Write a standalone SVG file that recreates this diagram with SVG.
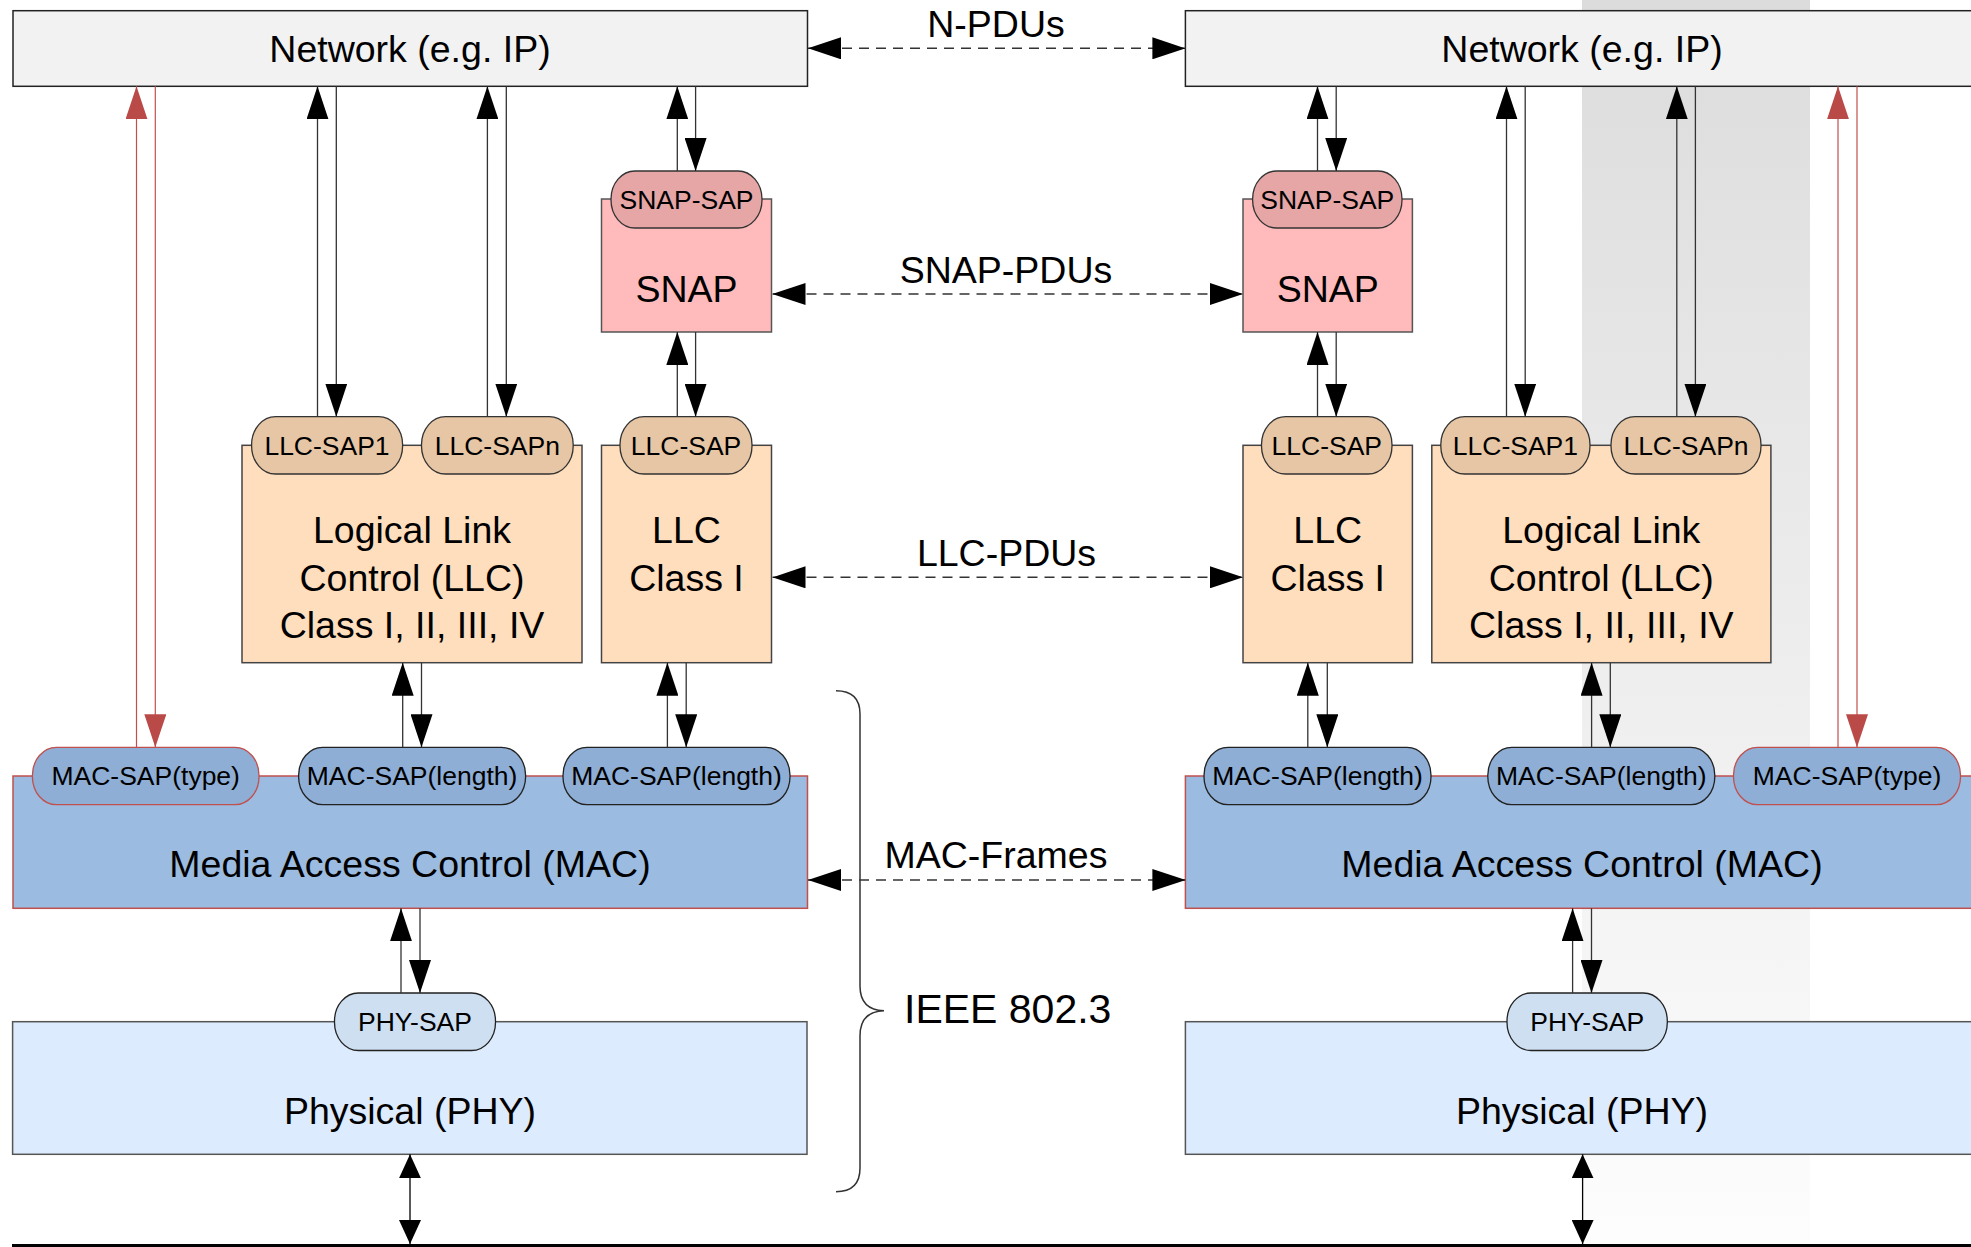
<svg xmlns="http://www.w3.org/2000/svg" width="1971" height="1247" viewBox="0 0 1971 1247">
  <style>
    text { font-family: "Liberation Sans", Arial, sans-serif; fill: #000; text-anchor: middle; }
    .big { font-size: 37.5px; }
    .sap { font-size: 26.5px; }
    .ieee { font-size: 41px; text-anchor: start; }
    .box { stroke-width: 1.5; }
    .net { fill: #f2f2f2; stroke: #222; }
    .snap { fill: #ffbbbb; stroke: #555; }
    .snapsap { fill: #e6a6a6; stroke: #333; stroke-width: 1.3; }
    .llc { fill: #ffdebd; stroke: #444; }
    .llcsap { fill: #e6c6a4; stroke: #333; stroke-width: 1.3; }
    .mac { fill: #9bbbe0; stroke: #c0504d; }
    .macsap { fill: #8eaed6; stroke: #222; stroke-width: 1.3; }
    .macsapt { fill: #8eaed6; stroke: #c0504d; stroke-width: 1.3; }
    .phy { fill: #dcebfd; stroke: #555; }
    .physap { fill: #cfdff2; stroke: #222; stroke-width: 1.3; }
    .c { stroke: #333; stroke-width: 1.3; fill: none; }
    .cr { stroke: #c0504d; stroke-width: 1.2; fill: none; }
    .cb { stroke: #000; stroke-width: 1.3; fill: none; }
    .dash { stroke: #333; stroke-width: 1.5; stroke-dasharray: 10 7; fill: none; }
  </style>
  <defs>
    <linearGradient id="bandFade" x1="0" y1="0" x2="0" y2="1">
      <stop offset="0" stop-color="#dcdcdc"/>
      <stop offset="1" stop-color="#fdfdfd"/>
    </linearGradient>
    <marker id="ah" markerUnits="userSpaceOnUse" markerWidth="33" markerHeight="22" viewBox="0 0 33 22" refX="33" refY="11" orient="auto">
      <path d="M0,0 L33,11 L0,22 z" fill="#000"/>
    </marker>
    <marker id="ahr" markerUnits="userSpaceOnUse" markerWidth="33" markerHeight="22" viewBox="0 0 33 22" refX="33" refY="11" orient="auto">
      <path d="M0,0 L33,11 L0,22 z" fill="#b94a48"/>
    </marker>
    <marker id="ahd" markerUnits="userSpaceOnUse" markerWidth="33" markerHeight="22" viewBox="0 0 33 22" refX="33" refY="11" orient="auto-start-reverse">
      <path d="M0,0 L33,11 L0,22 z" fill="#000"/>
    </marker>
    <marker id="ahs" markerUnits="userSpaceOnUse" markerWidth="24" markerHeight="22" viewBox="0 0 24 22" refX="24" refY="11" orient="auto-start-reverse">
      <path d="M0,0 L24,11 L0,22 z" fill="#000"/>
    </marker>
  </defs>

  <!-- shaded column behind the right-hand stack -->
  <rect x="1582" y="0" width="228" height="1244" fill="url(#bandFade)"/>

  <!-- left stack -->
  <g id="net-left">
    <rect class="box net" x="13" y="10.7" width="794.5" height="75.6"/>
    <text class="big" x="410" y="61.5">Network (e.g. IP)</text>
  </g>
  <g id="snap-left">
    <rect class="box snap" x="601.5" y="199" width="170" height="133"/>
    <text class="big" x="686.5" y="302">SNAP</text>
  </g>
  <g id="snapsap-left">
    <rect class="snapsap" x="611" y="171" width="151" height="57" rx="24" ry="28"/>
    <text class="sap" x="686.5" y="208.5">SNAP-SAP</text>
  </g>
  <g id="llc-left">
    <rect class="box llc" x="242" y="445.3" width="340" height="217.4"/>
    <text class="big" x="412" y="543">Logical Link</text>
    <text class="big" x="412" y="590.5">Control (LLC)</text>
    <text class="big" x="412" y="637.5">Class I, II, III, IV</text>
  </g>
  <g id="llcsap1-left">
    <rect class="llcsap" x="251.6" y="416.7" width="151" height="57.3" rx="24" ry="28"/>
    <text class="sap" x="327" y="454.5">LLC-SAP1</text>
  </g>
  <g id="llcsapn-left">
    <rect class="llcsap" x="421.5" y="416.7" width="151.7" height="57.3" rx="24" ry="28"/>
    <text class="sap" x="497.3" y="454.5">LLC-SAPn</text>
  </g>
  <g id="llc1-left">
    <rect class="box llc" x="601.5" y="445.3" width="170" height="217.4"/>
    <text class="big" x="686.5" y="543">LLC</text>
    <text class="big" x="686.5" y="590.5">Class I</text>
  </g>
  <g id="llcsap-left">
    <rect class="llcsap" x="620" y="416.7" width="132" height="57.3" rx="24" ry="28"/>
    <text class="sap" x="686" y="454.5">LLC-SAP</text>
  </g>
  <g id="mac-left">
    <rect class="box mac" x="13" y="776" width="794.5" height="132.3"/>
    <text class="big" x="410" y="877">Media Access Control (MAC)</text>
  </g>
  <g id="macsap-type-left">
    <rect class="macsapt" x="32.4" y="747.3" width="226.6" height="57.4" rx="24" ry="28"/>
    <text class="sap" x="145.7" y="785.3">MAC-SAP(type)</text>
  </g>
  <g id="macsap-len1-left">
    <rect class="macsap" x="298.6" y="747.3" width="227" height="57.4" rx="24" ry="28"/>
    <text class="sap" x="412.1" y="785.3">MAC-SAP(length)</text>
  </g>
  <g id="macsap-len2-left">
    <rect class="macsap" x="563" y="747.3" width="227" height="57.4" rx="24" ry="28"/>
    <text class="sap" x="676.5" y="785.3">MAC-SAP(length)</text>
  </g>
  <g id="phy-left">
    <rect class="box phy" x="12.6" y="1021.7" width="794.4" height="132.6"/>
    <text class="big" x="410" y="1124">Physical (PHY)</text>
  </g>
  <g id="physap-left">
    <rect class="physap" x="334.5" y="993" width="161" height="57.5" rx="24" ry="28"/>
    <text class="sap" x="415" y="1031">PHY-SAP</text>
  </g>

  <!-- right stack -->
  <g id="net-right">
    <rect class="box net" x="1185.4" y="10.7" width="794.5" height="75.6"/>
    <text class="big" x="1582" y="61.5">Network (e.g. IP)</text>
  </g>
  <g id="snap-right">
    <rect class="box snap" x="1243" y="199" width="169.4" height="133"/>
    <text class="big" x="1327.7" y="302">SNAP</text>
  </g>
  <g id="snapsap-right">
    <rect class="snapsap" x="1252.6" y="171" width="149.4" height="57" rx="24" ry="28"/>
    <text class="sap" x="1327.3" y="208.5">SNAP-SAP</text>
  </g>
  <g id="llc1-right">
    <rect class="box llc" x="1243" y="445.3" width="169.4" height="217.4"/>
    <text class="big" x="1327.7" y="543">LLC</text>
    <text class="big" x="1327.7" y="590.5">Class I</text>
  </g>
  <g id="llcsap-right">
    <rect class="llcsap" x="1261.5" y="416.7" width="130.5" height="57.3" rx="24" ry="28"/>
    <text class="sap" x="1326.8" y="454.5">LLC-SAP</text>
  </g>
  <g id="llc-right">
    <rect class="box llc" x="1431.8" y="445.3" width="339.1" height="217.4"/>
    <text class="big" x="1601.3" y="543">Logical Link</text>
    <text class="big" x="1601.3" y="590.5">Control (LLC)</text>
    <text class="big" x="1601.3" y="637.5">Class I, II, III, IV</text>
  </g>
  <g id="llcsap1-right">
    <rect class="llcsap" x="1440.8" y="416.7" width="149.2" height="57.3" rx="24" ry="28"/>
    <text class="sap" x="1515.4" y="454.5">LLC-SAP1</text>
  </g>
  <g id="llcsapn-right">
    <rect class="llcsap" x="1611" y="416.7" width="150" height="57.3" rx="24" ry="28"/>
    <text class="sap" x="1686" y="454.5">LLC-SAPn</text>
  </g>
  <g id="mac-right">
    <rect class="box mac" x="1185.4" y="776" width="794.5" height="132.3"/>
    <text class="big" x="1582" y="877">Media Access Control (MAC)</text>
  </g>
  <g id="macsap-len1-right">
    <rect class="macsap" x="1204" y="747.3" width="227" height="57.4" rx="24" ry="28"/>
    <text class="sap" x="1317.5" y="785.3">MAC-SAP(length)</text>
  </g>
  <g id="macsap-len2-right">
    <rect class="macsap" x="1487.8" y="747.3" width="227" height="57.4" rx="24" ry="28"/>
    <text class="sap" x="1601.3" y="785.3">MAC-SAP(length)</text>
  </g>
  <g id="macsap-type-right">
    <rect class="macsapt" x="1733.5" y="747.3" width="227" height="57.4" rx="24" ry="28"/>
    <text class="sap" x="1847" y="785.3">MAC-SAP(type)</text>
  </g>
  <g id="phy-right">
    <rect class="box phy" x="1185.4" y="1021.7" width="794.5" height="132.6"/>
    <text class="big" x="1582" y="1124">Physical (PHY)</text>
  </g>
  <g id="physap-right">
    <rect class="physap" x="1507" y="993" width="160.3" height="57.5" rx="24" ry="28"/>
    <text class="sap" x="1587.2" y="1031">PHY-SAP</text>
  </g>

  <!-- scope brace -->
  <g id="ieee-brace">
    <path d="M836,690.7 Q860,690.7 860,714 L860,986 Q860,1010 884,1010.7 Q860,1011.4 860,1036 L860,1168 Q860,1191.7 836,1191.7" fill="none" stroke="#333" stroke-width="1.5"/>
    <text class="ieee" x="904" y="1023">IEEE 802.3</text>
  </g>

  <!-- medium -->
  <line id="medium" x1="12" y1="1245.5" x2="1971" y2="1245.5" stroke="#000" stroke-width="3"/>

  <g id="connectors">
    <!-- left: network to LLC SAPs -->
    <line class="c" x1="317.5" y1="416.7" x2="317.5" y2="86.3" marker-end="url(#ah)"/>
    <line class="c" x1="336.3" y1="86.3" x2="336.3" y2="416.7" marker-end="url(#ah)"/>
    <line class="c" x1="487.4" y1="416.7" x2="487.4" y2="86.3" marker-end="url(#ah)"/>
    <line class="c" x1="506.3" y1="86.3" x2="506.3" y2="416.7" marker-end="url(#ah)"/>
    <!-- left: network / SNAP / LLC -->
    <line class="c" x1="677.3" y1="171" x2="677.3" y2="86.3" marker-end="url(#ah)"/>
    <line class="c" x1="695.6" y1="86.3" x2="695.6" y2="171" marker-end="url(#ah)"/>
    <line class="c" x1="677.3" y1="416.7" x2="677.3" y2="332" marker-end="url(#ah)"/>
    <line class="c" x1="695.6" y1="332" x2="695.6" y2="416.7" marker-end="url(#ah)"/>
    <!-- left: LLC to MAC -->
    <line class="c" x1="402.7" y1="747.3" x2="402.7" y2="662.7" marker-end="url(#ah)"/>
    <line class="c" x1="421.5" y1="662.7" x2="421.5" y2="747.3" marker-end="url(#ah)"/>
    <line class="c" x1="667.4" y1="747.3" x2="667.4" y2="662.7" marker-end="url(#ah)"/>
    <line class="c" x1="686.2" y1="662.7" x2="686.2" y2="747.3" marker-end="url(#ah)"/>
    <!-- left: MAC to PHY, PHY to medium -->
    <line class="c" x1="401" y1="993" x2="401" y2="908.3" marker-end="url(#ah)"/>
    <line class="c" x1="420" y1="908.3" x2="420" y2="993" marker-end="url(#ah)"/>
    <line class="cb" x1="410" y1="1154.3" x2="410" y2="1244" marker-start="url(#ahs)" marker-end="url(#ahs)"/>
    <!-- left: network directly over MAC (type) -->
    <line class="cr" x1="136.5" y1="747.3" x2="136.5" y2="86.3" marker-end="url(#ahr)"/>
    <line class="cr" x1="155.3" y1="86.3" x2="155.3" y2="747.3" marker-end="url(#ahr)"/>

    <!-- right: network / SNAP / LLC -->
    <line class="c" x1="1317.5" y1="171" x2="1317.5" y2="86.3" marker-end="url(#ah)"/>
    <line class="c" x1="1336.2" y1="86.3" x2="1336.2" y2="171" marker-end="url(#ah)"/>
    <line class="c" x1="1317.5" y1="416.7" x2="1317.5" y2="332" marker-end="url(#ah)"/>
    <line class="c" x1="1336.2" y1="332" x2="1336.2" y2="416.7" marker-end="url(#ah)"/>
    <!-- right: network to LLC SAPs -->
    <line class="c" x1="1506.5" y1="416.7" x2="1506.5" y2="86.3" marker-end="url(#ah)"/>
    <line class="c" x1="1525.2" y1="86.3" x2="1525.2" y2="416.7" marker-end="url(#ah)"/>
    <line class="c" x1="1676.8" y1="416.7" x2="1676.8" y2="86.3" marker-end="url(#ah)"/>
    <line class="c" x1="1695.4" y1="86.3" x2="1695.4" y2="416.7" marker-end="url(#ah)"/>
    <!-- right: LLC to MAC -->
    <line class="c" x1="1307.8" y1="747.3" x2="1307.8" y2="662.7" marker-end="url(#ah)"/>
    <line class="c" x1="1327.3" y1="662.7" x2="1327.3" y2="747.3" marker-end="url(#ah)"/>
    <line class="c" x1="1591.6" y1="747.3" x2="1591.6" y2="662.7" marker-end="url(#ah)"/>
    <line class="c" x1="1610.3" y1="662.7" x2="1610.3" y2="747.3" marker-end="url(#ah)"/>
    <!-- right: MAC to PHY, PHY to medium -->
    <line class="c" x1="1572.6" y1="993" x2="1572.6" y2="908.3" marker-end="url(#ah)"/>
    <line class="c" x1="1591.5" y1="908.3" x2="1591.5" y2="993" marker-end="url(#ah)"/>
    <line class="cb" x1="1582.6" y1="1154.3" x2="1582.6" y2="1244" marker-start="url(#ahs)" marker-end="url(#ahs)"/>
    <!-- right: network directly over MAC (type) -->
    <line class="cr" x1="1838" y1="747.3" x2="1838" y2="86.3" marker-end="url(#ahr)"/>
    <line class="cr" x1="1857" y1="86.3" x2="1857" y2="747.3" marker-end="url(#ahr)"/>

    <!-- peer-to-peer exchanges -->
    <line class="dash" x1="808" y1="48.3" x2="1185.4" y2="48.3" marker-start="url(#ahd)" marker-end="url(#ahd)"/>
    <text class="big" x="996" y="36.7">N-PDUs</text>
    <line class="dash" x1="772.5" y1="294" x2="1243" y2="294" marker-start="url(#ahd)" marker-end="url(#ahd)"/>
    <text class="big" x="1006" y="283">SNAP-PDUs</text>
    <line class="dash" x1="772.5" y1="577.3" x2="1243" y2="577.3" marker-start="url(#ahd)" marker-end="url(#ahd)"/>
    <text class="big" x="1006.5" y="565.7">LLC-PDUs</text>
    <line class="dash" x1="808" y1="880" x2="1185.4" y2="880" marker-start="url(#ahd)" marker-end="url(#ahd)"/>
    <text class="big" x="996" y="868.3">MAC-Frames</text>
  </g>
</svg>
